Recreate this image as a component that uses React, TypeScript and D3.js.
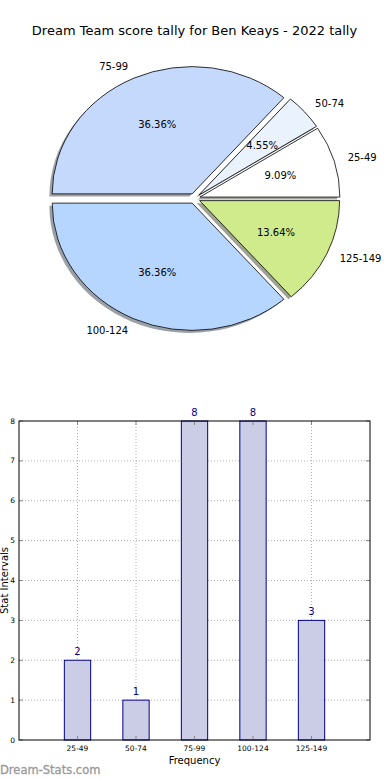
import React from "react";
import * as d3 from "d3";

const categories = ["25-49", "50-74", "75-99", "100-124", "125-149"];
const counts = [2, 1, 8, 8, 3];
const pieColors = ["#ffffff", "#eaf2fe", "#c5d9fd", "#b7d6ff", "#d0eb8c"];
const yTicks = [0, 1, 2, 3, 4, 5, 6, 7, 8];

const W = 390;
const H = 780;
const FONT = "DejaVu Sans, sans-serif";

export default function App() {
  // ---- Pie ----
  const cx = 194.5;
  const cy = 198.5;
  const rx = 140;
  const ry = 127.2;
  const explode = 0.04;
  const total = d3.sum(counts);
  const arcs = d3
    .pie<number>()
    .sort(null)
    .startAngle(Math.PI / 2)
    .endAngle(Math.PI / 2 - 2 * Math.PI)(counts);
  const arcGen = d3.arc<d3.PieArcDatum<number>>().innerRadius(0).outerRadius(1);

  const shadowColor = (c: string) => {
    const col = d3.rgb(c);
    return d3.rgb(col.r * 0.3, col.g * 0.3, col.b * 0.3).toString();
  };

  const slices = arcs.map((a, i) => {
    const m = (a.startAngle + a.endAngle) / 2;
    const sx = Math.sin(m);
    const sy = -Math.cos(m);
    const ox = cx + explode * rx * sx;
    const oy = cy + explode * ry * sy;
    return {
      d: arcGen(a) as string,
      ox,
      oy,
      sx,
      sy,
      color: pieColors[i],
      label: categories[i],
      pct: ((a.value / total) * 100).toFixed(2) + "%",
    };
  });

  // ---- Bars ----
  const left = 19;
  const right = 370;
  const top = 421;
  const bottom = 740;
  const x = d3.scaleLinear().domain([-1, 5]).range([left, right]);
  const y = d3.scaleLinear().domain([0, 8]).range([bottom, top]);
  const barW = x(0.45) - x(0);

  return (
    <svg
      width={W}
      height={H}
      style={{ position: "absolute", left: 0, top: 0, background: "#fff" }}
      fontFamily={FONT}
    >
      <rect x={0} y={0} width={W} height={H} fill="#fff" />
      <text x={cx} y={30} textAnchor="middle" dominantBaseline="central" fontSize={13} fill="#000">
        Dream Team score tally for Ben Keays - 2022 tally
      </text>

      {/* shadows */}
      {slices.map((s, i) => (
        <path
          key={"sh" + i}
          d={s.d}
          transform={`translate(${s.ox - 0.02 * rx},${s.oy + 0.02 * ry}) scale(${rx},${ry})`}
          fill={shadowColor(s.color)}
          fillOpacity={0.5}
          stroke="none"
        />
      ))}
      {slices.map((s, i) => (
        <path
          key={"w" + i}
          d={s.d}
          transform={`translate(${s.ox},${s.oy}) scale(${rx},${ry})`}
          fill={s.color}
          stroke="#000"
          strokeWidth={0.8}
          vectorEffect="non-scaling-stroke"
          strokeLinejoin="round"
        />
      ))}
      {slices.map((s, i) => {
        const lx = s.ox + 1.1 * rx * s.sx;
        const ly = s.oy + 1.1 * ry * s.sy;
        const px = s.ox + 0.6 * rx * s.sx;
        const py = s.oy + 0.6 * ry * s.sy;
        return (
          <g key={"t" + i} fontSize={10} fill="#000">
            <text x={lx} y={ly} textAnchor={s.sx > 0 ? "start" : "end"} dominantBaseline="central">
              {s.label}
            </text>
            <text x={px} y={py} textAnchor="middle" dominantBaseline="central">
              {s.pct}
            </text>
          </g>
        );
      })}

      {/* bar chart */}
      <g>
        {/* grid */}
        {categories.map((c, i) => (
          <line
            key={"gx" + i}
            x1={x(i)}
            x2={x(i)}
            y1={top}
            y2={bottom}
            stroke="#b0b0b0"
            strokeWidth={1}
            strokeDasharray="1,2"
          />
        ))}
        {yTicks.slice(1, -1).map((t) => (
          <line
            key={"gy" + t}
            x1={left}
            x2={right}
            y1={y(t)}
            y2={y(t)}
            stroke="#b0b0b0"
            strokeWidth={1}
            strokeDasharray="1,2"
          />
        ))}
        {/* bars */}
        {counts.map((v, i) => (
          <rect
            key={"b" + i}
            x={x(i) - barW / 2}
            y={y(v)}
            width={barW}
            height={y(0) - y(v)}
            fill="#cbcce6"
            stroke="#00008b"
            strokeWidth={1}
          />
        ))}
        {counts.map((v, i) => (
          <text
            key={"bv" + i}
            x={x(i)}
            y={y(v) - 5}
            textAnchor="middle"
            fontSize={10}
            fill="#00008b"
          >
            {v}
          </text>
        ))}
        {/* ticks */}
        {categories.map((c, i) => (
          <g key={"tx" + i}>
            <line x1={x(i)} x2={x(i)} y1={bottom} y2={bottom - 4} stroke="#888" strokeWidth={1} />
            <line x1={x(i)} x2={x(i)} y1={top} y2={top + 4} stroke="#888" strokeWidth={1} />
            <text x={x(i)} y={bottom + 11} textAnchor="middle" fontSize={7.5} fill="#000">
              {c}
            </text>
          </g>
        ))}
        {yTicks.map((t) => (
          <g key={"ty" + t}>
            <line x1={left} x2={left + 4} y1={y(t)} y2={y(t)} stroke="#888" strokeWidth={1} />
            <line x1={right} x2={right - 4} y1={y(t)} y2={y(t)} stroke="#888" strokeWidth={1} />
            <text x={left - 4} y={y(t)} textAnchor="end" dominantBaseline="central" fontSize={7.5} fill="#000">
              {t}
            </text>
          </g>
        ))}
        <rect x={left} y={top} width={right - left} height={bottom - top} fill="none" stroke="#000" strokeWidth={1} />
        <text x={(left + right) / 2} y={764} textAnchor="middle" fontSize={10} fill="#000">
          Frequency
        </text>
        <text
          transform={`translate(4,${(top + bottom) / 2}) rotate(-90)`}
          textAnchor="middle"
          dominantBaseline="central"
          fontSize={10}
          fill="#000"
        >
          Stat Intervals
        </text>
      </g>

      <text x={0} y={774} fontSize={11.5} fill="#999" stroke="#999" strokeWidth={0.3}>
        Dream-Stats.com
      </text>
    </svg>
  );
}
